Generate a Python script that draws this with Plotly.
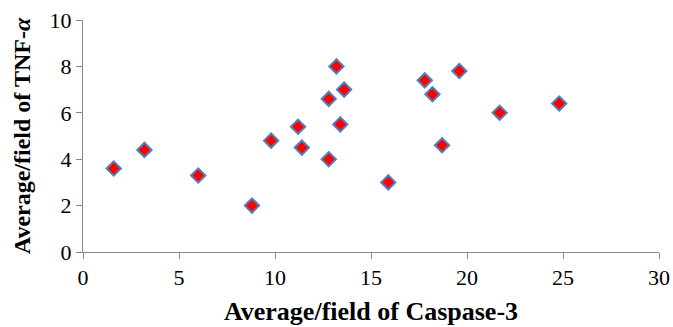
import plotly.graph_objects as go

caspase3 = [1.6, 3.2, 6.0, 8.8, 9.8, 11.2, 11.4, 12.8, 12.8, 13.2, 13.6, 13.4, 15.9, 17.8, 18.2, 18.7, 19.6, 21.7, 24.8]
tnf_alpha = [3.6, 4.4, 3.3, 2.0, 4.8, 5.4, 4.5, 6.6, 4.0, 8.0, 7.0, 5.5, 3.0, 7.4, 6.8, 4.6, 7.8, 6.0, 6.4]

x_ticks = [0, 5, 10, 15, 20, 25, 30]
y_ticks = [0, 2, 4, 6, 8, 10]

SERIF = "Liberation Serif, Times New Roman, serif"

fig = go.Figure()
fig.add_trace(go.Scatter(
    x=caspase3, y=tnf_alpha, mode="markers",
    marker=dict(symbol="diamond", size=11, color="#FF0000",
                line=dict(color="#4F81BD", width=2)),
    showlegend=False, hoverinfo="skip",
))

fig.update_layout(
    width=673, height=327,
    margin=dict(l=83, r=14, t=20, b=75),
    paper_bgcolor="white", plot_bgcolor="white",
    font=dict(family=SERIF, size=22, color="#000000"),
)
fig.update_xaxes(
    range=[0, 30], tickmode="array", tickvals=x_ticks, ticktext=[str(v) for v in x_ticks],
    showgrid=False, zeroline=False, showline=True, linecolor="#888888", linewidth=1,
    ticks="outside", ticklen=6, tickcolor="#888888", automargin=False,
    tickfont=dict(family=SERIF, size=22, color="#000000"),
    title=dict(text="<b>Average/field of Caspase-3</b>", standoff=12,
               font=dict(family=SERIF, size=26, color="#000000")),
)
fig.update_yaxes(
    range=[0, 10], tickmode="array", tickvals=y_ticks, ticktext=[str(v) for v in y_ticks],
    showgrid=False, zeroline=False, showline=True, linecolor="#888888", linewidth=1,
    ticks="outside", ticklen=6, tickcolor="#888888", automargin=False,
    tickfont=dict(family=SERIF, size=22, color="#000000"),
    title=dict(text="<b>Average/field of TNF-<i>α</i></b>", standoff=12,
               font=dict(family=SERIF, size=24, color="#000000")),
)

fig.write_html("out.html")
